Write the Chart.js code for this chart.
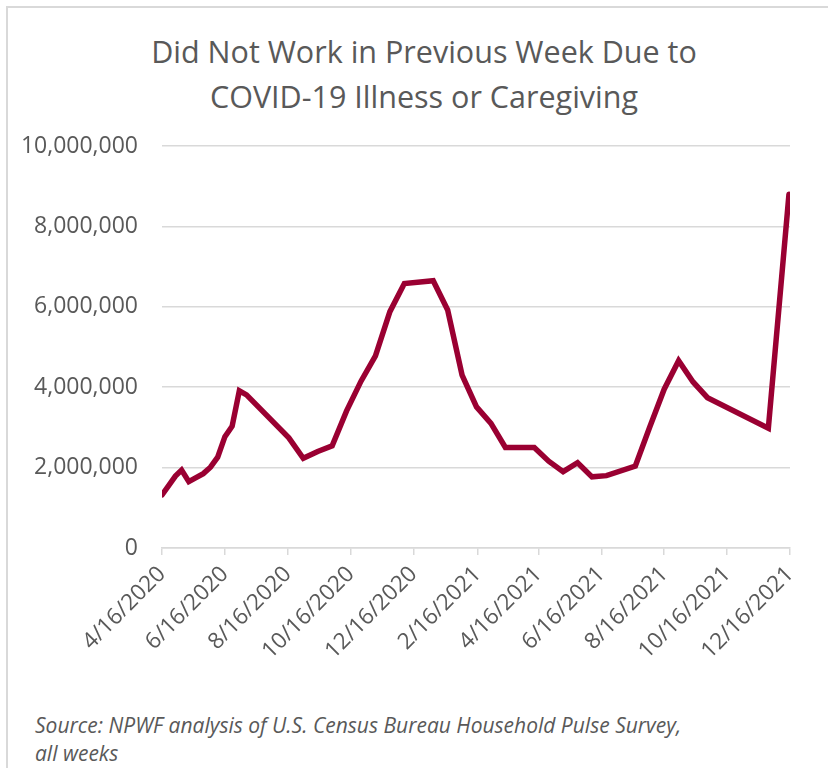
<!DOCTYPE html>
<html>
<head>
<meta charset="utf-8">
<script src="https://cdn.jsdelivr.net/npm/chart.js@4"></script>
<style>
  html, body { margin: 0; padding: 0; background: #fff; overflow: hidden; }
  body { width: 828px; height: 768px; position: relative; }
  .frame {
    position: absolute; left: 6px; top: 6px; width: 900px; height: 900px;
    border-left: 2px solid #d9d9d9; border-top: 2px solid #d9d9d9;
  }
  .title {
    position: absolute; left: 0; top: 29px; width: 848px; text-align: center;
    font-family: "Open Sans", sans-serif; font-size: 30.5px; line-height: 45px;
    color: #595959;
  }
  .chart-box { position: absolute; left: 0; top: 0; width: 828px; height: 660px; }
  .source {
    position: absolute; left: 35px; top: 711px;
    font-family: "Open Sans", sans-serif; font-style: italic;
    font-size: 21px; line-height: 28px; color: #595959;
  }
</style>
</head>
<body>
<div class="frame"></div>
<div class="title">Did Not Work in Previous Week Due to<br>COVID-19 Illness or Caregiving</div>
<div class="chart-box"><canvas id="chart"></canvas></div>
<div class="source">Source: NPWF analysis of U.S. Census Bureau Household Pulse Survey,<br>all weeks</div>
<script>
// Household Pulse Survey weeks (date used for each week)
const surveyDates = [
  '2020-04-16', '2020-04-29', '2020-05-05', '2020-05-12', '2020-05-19', '2020-05-26',
  '2020-06-02', '2020-06-09', '2020-06-16', '2020-06-23', '2020-06-30', '2020-07-07',
  '2020-08-17', '2020-08-31', '2020-09-14', '2020-09-28', '2020-10-12', '2020-10-26',
  '2020-11-09', '2020-11-23', '2020-12-07', '2021-01-04', '2021-01-18', '2021-02-01',
  '2021-02-15', '2021-03-01', '2021-03-15', '2021-04-12', '2021-04-26', '2021-05-10',
  '2021-05-24', '2021-06-07', '2021-06-21', '2021-07-19', '2021-08-02', '2021-08-16',
  '2021-08-30', '2021-09-13', '2021-09-27', '2021-11-25', '2021-12-15'
];

// people who did not work because of COVID-19 illness or caregiving
const notWorking = [
  1320000, 1790000, 1940000, 1650000, 1750000, 1850000,
  2010000, 2260000, 2770000, 3030000, 3910000, 3810000,
  2740000, 2230000, 2400000, 2540000, 3410000, 4150000,
  4780000, 5880000, 6580000, 6650000, 5920000, 4300000,
  3510000, 3100000, 2500000, 2500000, 2160000, 1900000,
  2120000, 1770000, 1800000, 2040000, 3010000, 3950000,
  4660000, 4130000, 3740000, 2980000, 8800000
];

const tickLabels = [
  '4/16/2020', '6/16/2020', '8/16/2020', '10/16/2020', '12/16/2020', '2/16/2021',
  '4/16/2021', '6/16/2021', '8/16/2021', '10/16/2021', '12/16/2021'
];

const yTicks = [0, 2000000, 4000000, 6000000, 8000000, 10000000];

// days counted from the first axis date
const DAY = 86400000;
const origin = Date.UTC(2020, 3, 16);
const isoToDay = s => {
  const [y, m, d] = s.split('-').map(Number);
  return Math.round((Date.UTC(y, m - 1, d) - origin) / DAY);
};
const usToDay = s => {
  const [m, d, y] = s.split('/').map(Number);
  return Math.round((Date.UTC(y, m - 1, d) - origin) / DAY);
};
const tickDays = tickLabels.map(usToDay);
const points = surveyDates.map((s, i) => ({ x: isoToDay(s), y: notWorking[i] }));

const FONT = '"Open Sans", sans-serif';
const TEXT = '#595959';
const GRID = '#d9d9d9';

new Chart(document.getElementById('chart'), {
  type: 'line',
  data: {
    datasets: [{
      data: points,
      borderColor: '#9a0032',
      borderWidth: 5.5,
      borderCapStyle: 'round',
      borderJoinStyle: 'miter',
      pointRadius: 0,
      tension: 0,
      fill: false
    }]
  },
  options: {
    responsive: true,
    maintainAspectRatio: false,
    animation: false,
    layout: { padding: { left: 0, right: 38, top: 146, bottom: 0 } },
    plugins: {
      legend: { display: false },
      tooltip: { enabled: false },
      title: { display: false }
    },
    scales: {
      x: {
        type: 'linear',
        min: tickDays[0],
        max: tickDays[tickDays.length - 1],
        afterBuildTicks: scale => {
          scale.ticks = tickDays.map(v => ({ value: v }));
        },
        afterFit: scale => { scale.height = 112; },
        grid: { drawOnChartArea: false, drawTicks: true, tickLength: 7, color: GRID, lineWidth: 1.5 },
        border: { display: true, color: GRID, width: 1.5 },
        ticks: {
          autoSkip: false,
          minRotation: 45,
          maxRotation: 45,
          padding: 6,
          color: TEXT,
          font: { family: FONT, size: 22.5 },
          callback: (v, i) => tickLabels[i]
        }
      },
      y: {
        min: 0,
        max: 10000000,
        afterBuildTicks: scale => {
          scale.ticks = yTicks.map(v => ({ value: v }));
        },
        afterFit: scale => { scale.width = 162; },
        grid: { color: GRID, lineWidth: 1.5, drawTicks: false },
        border: { display: false },
        ticks: {
          padding: 24,
          color: TEXT,
          font: { family: FONT, size: 23 },
          callback: v => v.toLocaleString('en-US')
        }
      }
    }
  }
});
</script>
</body>
</html>
